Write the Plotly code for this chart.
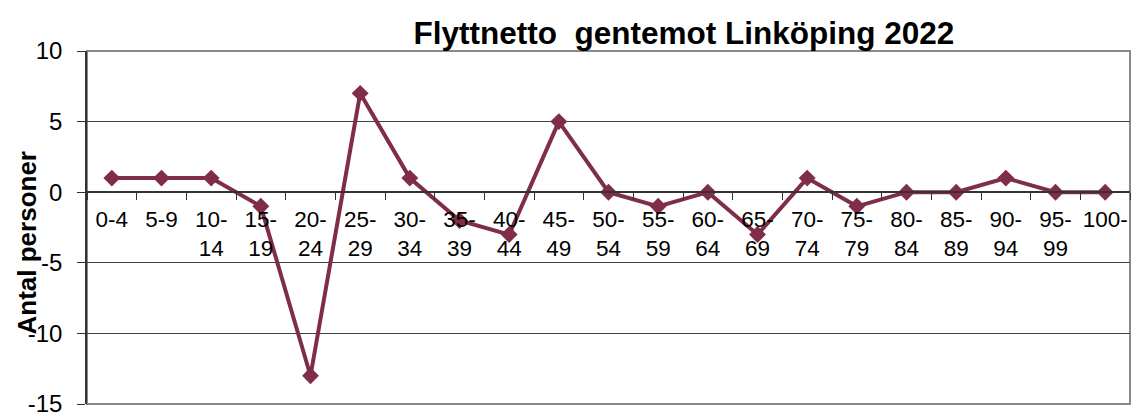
import plotly.graph_objects as go

# Age groups and net migration (persons) towards Linköping, 2022
age_groups = ["0-4", "5-9", "10-14", "15-19", "20-24", "25-29", "30-34",
              "35-39", "40-44", "45-49", "50-54", "55-59", "60-64", "65-69",
              "70-74", "75-79", "80-84", "85-89", "90-94", "95-99", "100-"]
net_migration = [1, 1, 1, -1, -13, 7, 1, -2, -3, 5, 0, -1, 0, -3,
                 1, -1, 0, 0, 1, 0, 0]
tick_labels = ["0-4", "5-9", "10-<br>14", "15-<br>19", "20-<br>24", "25-<br>29",
               "30-<br>34", "35-<br>39", "40-<br>44", "45-<br>49", "50-<br>54",
               "55-<br>59", "60-<br>64", "65-<br>69", "70-<br>74", "75-<br>79",
               "80-<br>84", "85-<br>89", "90-<br>94", "95-<br>99", "100-"]
y_ticks = [10, 5, 0, -5, -10, -15]
y_tick_labels = ["10", "5", "0", "-5", "-10", "-15"]

FONT = "Arial, Liberation Sans, sans-serif"
LINE_COLOR = "#7f2d48"
Y_MIN, Y_MAX = -15, 10

fig = go.Figure()
fig.add_trace(go.Scatter(
    x=age_groups,
    y=net_migration,
    mode="lines+markers",
    line=dict(color=LINE_COLOR, width=4),
    marker=dict(symbol="diamond", size=13, color=LINE_COLOR),
    showlegend=False,
    hoverinfo="x+y",
))

# x axis sits on the zero line inside the plot area
zero_pos = (0 - Y_MIN) / (Y_MAX - Y_MIN)

fig.update_layout(
    width=1136,
    height=416,
    margin=dict(l=87, r=6, t=51, b=12),
    paper_bgcolor="white",
    plot_bgcolor="white",
    font=dict(family=FONT, color="black"),
    title=dict(
        text="Flyttnetto\u00a0 gentemot Linköping 2022",
        font=dict(family=FONT, size=31.5, weight="bold", color="black"),
        x=684 / 1136, xanchor="center",
        y=1 - 33 / 416, yanchor="middle",
        xref="container", yref="container",
    ),
    xaxis=dict(
        type="category",
        range=[-0.5, len(age_groups) - 0.5],
        tickvals=age_groups,
        ticktext=tick_labels,
        anchor="free",
        position=zero_pos,
        automargin=False,
        showline=True,
        linecolor="#333333",
        linewidth=1.5,
        ticks="outside",
        tickson="boundaries",
        ticklen=7,
        tickcolor="#333333",
        tickwidth=1.2,
        ticklabelstandoff=7,
        showgrid=False,
        zeroline=False,
        tickangle=0,
        tickfont=dict(family=FONT, size=22.5, color="black"),
    ),
    yaxis=dict(
        range=[Y_MIN, Y_MAX],
        tickvals=y_ticks,
        ticktext=y_tick_labels,
        automargin=False,
        showgrid=True,
        gridcolor="#404040",
        gridwidth=1.2,
        zeroline=False,
        showline=True,
        linecolor="#333333",
        linewidth=1.5,
        ticks="outside",
        ticklen=8,
        tickcolor="#333333",
        tickwidth=1.2,
        ticklabelstandoff=10,
        ticklabeloverflow="allow",
        tickfont=dict(family=FONT, size=24, color="black"),
    ),
    annotations=[dict(
        text="Antal personer",
        xref="paper", yref="paper",
        x=0, xshift=-61, y=(404 - 242.5) / 353,
        xanchor="center", yanchor="middle",
        textangle=-90, showarrow=False,
        font=dict(family=FONT, size=26, weight="bold", color="black"),
    )],
    shapes=[dict(
        type="rect", xref="paper", yref="paper",
        x0=0, x1=1, y0=0, y1=1,
        line=dict(color="#8a8a8a", width=2),
        layer="below",
    )],
)

fig.write_html("out.html")
